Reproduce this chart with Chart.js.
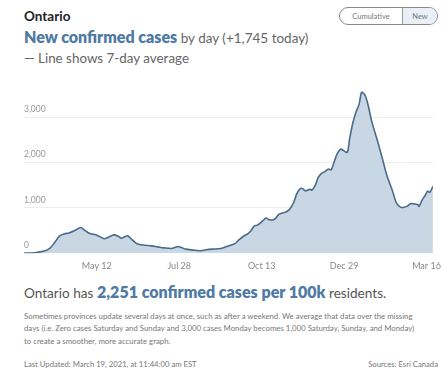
<!DOCTYPE html>
<html>
<head>
<meta charset="utf-8">
<script src="https://cdn.jsdelivr.net/npm/chart.js@4/dist/chart.umd.min.js"></script>
<style>
  html, body { margin:0; padding:0; background:#fff; width:448px; height:371px; overflow:hidden; font-family: Lato, "Open Sans", sans-serif; }
  .abs { position:absolute; white-space:nowrap; }
  #region { left:24px; top:9px; font-size:13.5px; line-height:14px; font-weight:700; color:#222; }
  #title { left:24px; top:28px; font-size:13.5px; line-height:18px; color:#666; }
  #title b, #stat b { color:#4f7aa3; font-weight:800; font-size:16px; }
  #sub { left:24px; top:51px; font-size:13.4px; line-height:14px; color:#666; }
  #toggle { left:339px; top:7px; width:97px; height:16px; border:1px solid #888; border-radius:9px; overflow:hidden; display:flex; font-size:7.5px; color:#777; }
  #toggle div { display:flex; align-items:center; justify-content:center; }
  #toggle .c { width:62px; border-right:1px solid #999; }
  #toggle .n { flex:1; background:#e9f0f7; }
  #chartwrap { position:absolute; left:0; top:85px; width:448px; height:189px; }
  #stat { left:24px; top:282px; font-size:13.6px; line-height:19px; color:#555; }
  #note { left:24px; top:310px; font-size:7.8px; line-height:12.3px; color:#777; }
  #updated { left:24px; top:360px; font-size:7.7px; line-height:9px; color:#777; }
  #source { right:10px; top:360px; font-size:7.7px; line-height:9px; color:#777; }
</style>
</head>
<body>
<div class="abs" id="region">Ontario</div>
<div class="abs" id="title"><b>New confirmed cases</b> by day (+1,745 today)</div>
<div class="abs" id="sub">— Line shows 7-day average</div>
<div class="abs" id="toggle"><div class="c">Cumulative</div><div class="n">New</div></div>
<div id="chartwrap"><canvas id="c" width="448" height="189"></canvas></div>
<div class="abs" id="stat">Ontario has <b>2,251 confirmed cases per 100k</b> residents.</div>
<div class="abs" id="note">Sometimes provinces update several days at once, such as after a weekend. We average that data over the missing<br>days (i.e. Zero cases Saturday and Sunday and 3,000 cases Monday becomes 1,000 Saturday, Sunday, and Monday)<br>to create a smoother, more accurate graph.</div>
<div class="abs" id="updated">Last Updated: March 19, 2021, at 11:44:00 am EST</div>
<div class="abs" id="source">Sources: Esri Canada</div>
<script>
// Day index (days since first data point) and 7-day average of new cases
const days = [0,10,19,24,29,33,38,42,47,50,53,56,61,67,70,75,79,84,88,91,94,97,100,104,107,113,119,125,131,138,141,144,147,151,158,164,170,176,184,190,197,201,206,209,212,215,218,223,226,229,232,235,238,243,246,249,252,255,258,260,263,267,269,272,275,278,281,284,287,290,293,296,298,302,304,307,310,313,315,316,319,322,325,330,335,339,344,348,352,355,358,361,364,368,369,372,375,377,379,381,382];
const cases = [0,13,49,107,249,377,429,450,499,536,570,521,441,407,377,321,356,407,377,334,364,386,321,236,199,178,163,141,120,107,129,150,129,92,71,56,77,92,107,156,214,300,392,429,499,600,621,714,778,741,735,771,857,900,928,999,1127,1320,1427,1427,1378,1414,1393,1500,1678,1764,1800,1856,1843,2036,2214,2299,2272,2229,2499,2857,3107,3285,3536,3557,3463,3215,2893,2499,2070,1714,1393,1106,1014,1014,1041,1093,1093,1072,1035,1179,1286,1372,1342,1427,1479];
const tickDays = [68,145,222,299,376];
const tickLabels = ["May 12","Jul 28","Oct 13","Dec 29","Mar 16"];
const yTicks = [0,1000,2000,3000];

const points = days.map((d,i)=>({x:d, y:cases[i]}));

new Chart(document.getElementById('c'), {
  type: 'line',
  data: { datasets: [{
    data: points,
    borderColor: '#4a6a8a',
    borderWidth: 1.6,
    backgroundColor: '#c9d7e5',
    fill: 'origin',
    pointRadius: 0,
    tension: 0.3
  }]},
  options: {
    responsive: false,
    animation: false,
    devicePixelRatio: 1,
    layout: { padding: { left: 24, right: 9, top: 0, bottom: 0 } },
    plugins: { legend: { display:false }, tooltip: { enabled:false } },
    scales: {
      x: {
        type: 'linear', min: 0, max: 382,
        grid: { display:false, drawTicks:false },
        border: { display:false },
        afterBuildTicks: s => { s.ticks = tickDays.map(v=>({value:v})); },
        afterFit: s => { s.height = 20.7; },
        ticks: { autoSkip:false, maxRotation:0, padding:7, color:'#888', font:{ family:'Lato', size:9 },
          callback: (v,i) => tickLabels[i] }
      },
      y: {
        min: 0, max: 3600,
        grid: { drawTicks:false, color: c => c.tick && c.tick.value === 0 ? 'rgba(0,0,0,0)' : '#ececec', lineWidth:1 },
        border: { display:false },
        afterBuildTicks: s => { s.ticks = yTicks.map(v=>({value:v})); },
        afterFit: s => { s.width = 0; },
        ticks: { mirror:true, padding:0, labelOffset:-8, color:'#999', font:{ family:'Lato', size:8.5 },
          callback: v => v.toLocaleString('en-US') }
      }
    }
  }
});
</script>
</body>
</html>
